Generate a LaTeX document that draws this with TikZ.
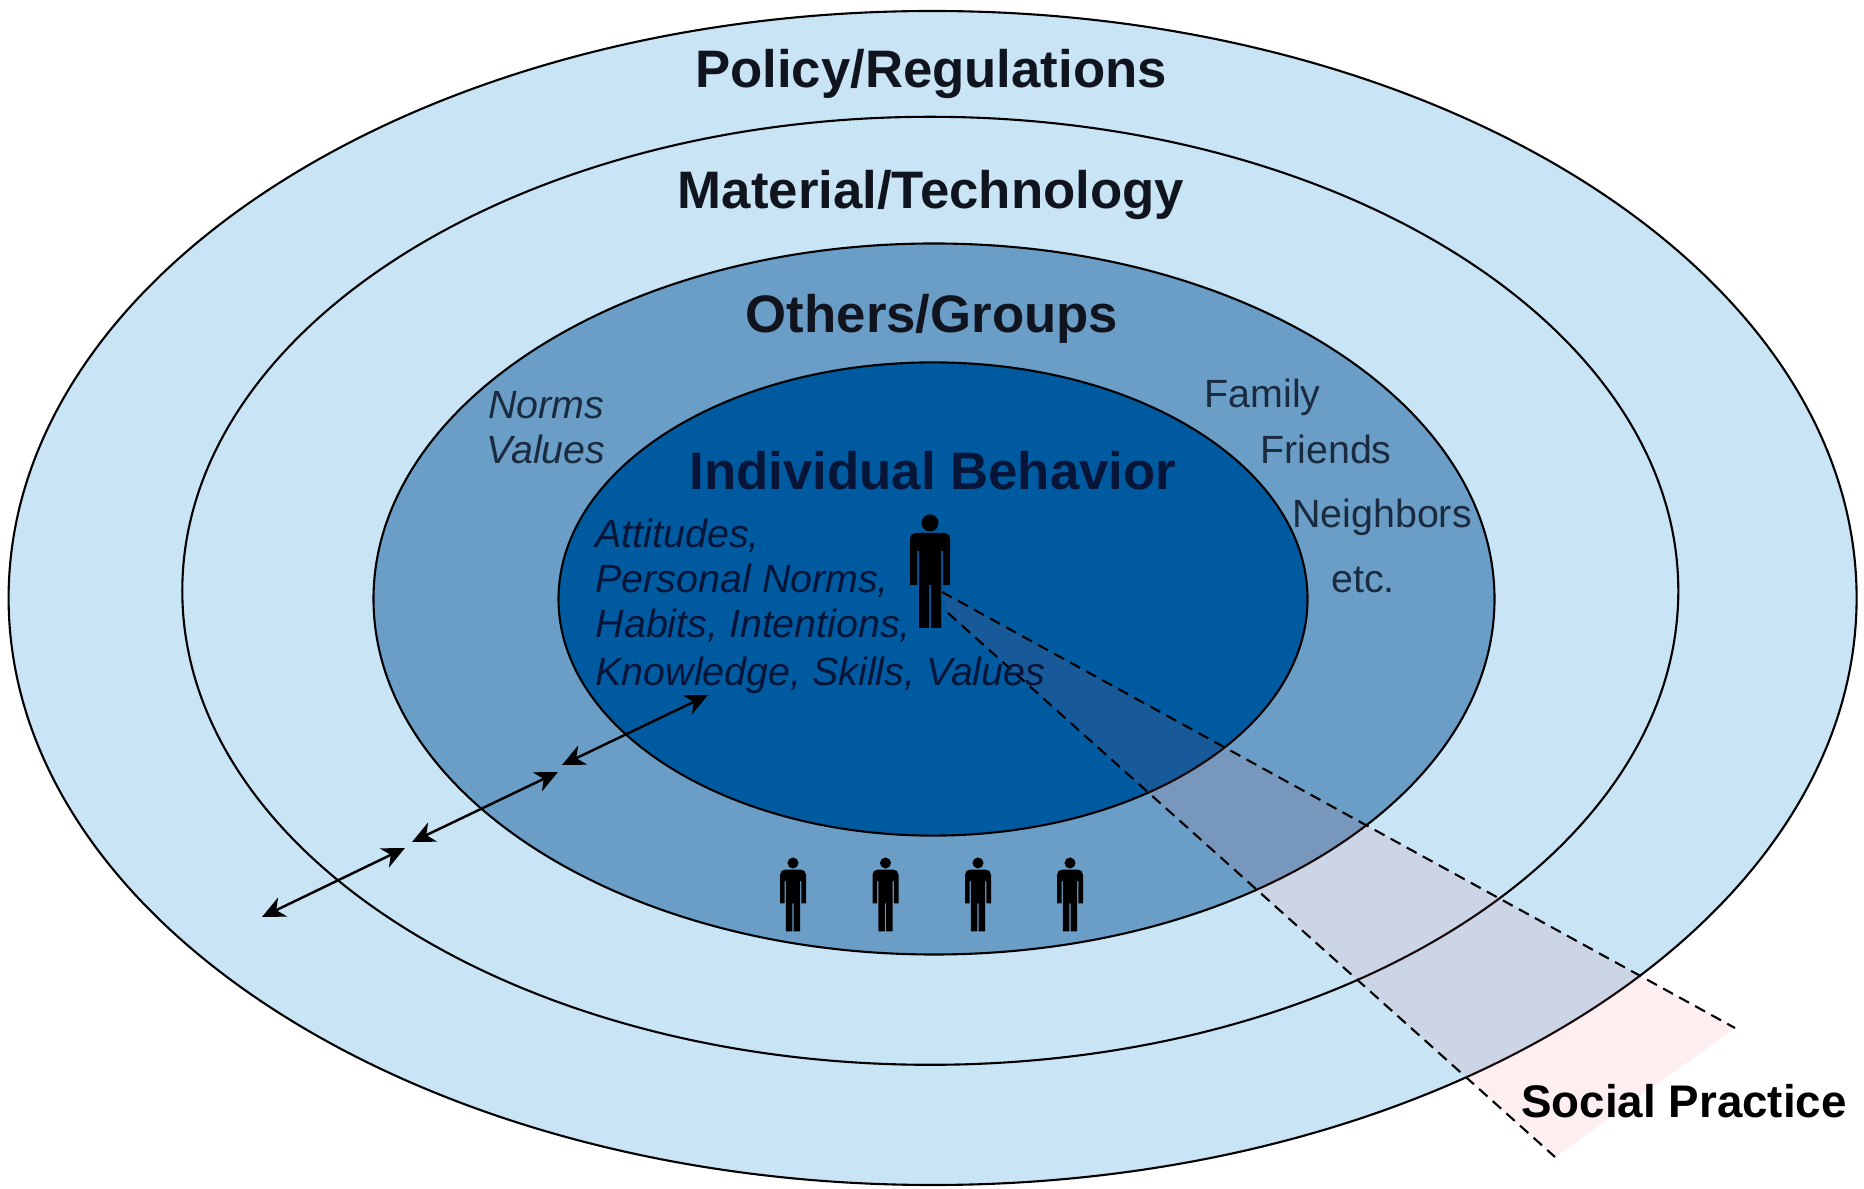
\documentclass[tikz,border=0pt]{standalone}
\usepackage{fontspec}
\setmainfont{Liberation Sans}
\usetikzlibrary{arrows.meta}
\definecolor{ringlight}{HTML}{C9E4F5}
\definecolor{ringmid}{HTML}{6B9EC7}
\definecolor{ringdark}{HTML}{005AA0}
\definecolor{beamtint}{RGB}{236,90,100}
\definecolor{inkdark}{HTML}{10141F}
\definecolor{inkmid}{HTML}{1A2A3F}
\definecolor{inknavy}{HTML}{071538}
\tikzset{
  ring/.style={draw=black,line width=.6pt},
  beamline/.style={line width=.6pt,dash pattern=on 3.2pt off 2pt},
  twoway/.style={<->,line width=.7pt},
  title/.style={font=\fontsize{15}{18}\selectfont\bfseries,text=inkdark,inner sep=0pt},
  note/.style={font=\fontsize{11.2}{13}\selectfont,text=inkmid,inner sep=0pt},
  noteit/.style={note,font=\fontsize{11.2}{13}\selectfont\itshape},
  person/.pic={
    \fill (0,0) circle (8.5);
    \fill (-20,62)[rounded corners=1.5pt]--(-20,10)--(20,10)[sharp corners]--(20,62)--(13,62)--(13,28)--(11,28)--(11,105)--(1,105)--(1,62)--(-1,62)--(-1,105)--(-11,105)--(-11,28)--(-13,28)--(-13,62)--cycle;
  }
}
\begin{document}
\begin{tikzpicture}[x=.01cm,y=-.01cm,line join=round,>={Stealth[length=6.5pt,width=6pt,inset=2pt]}]
\useasboundingbox (0,0) rectangle (1864,1189);

% rings
\filldraw[ring,fill=ringlight](932.6,598) ellipse [x radius=924,y radius=587];
\filldraw[ring,fill=ringlight](930.3,590.8) ellipse [x radius=748,y radius=474];
\filldraw[ring,fill=ringmid](934,599) ellipse [x radius=560.5,y radius=355.5];
\filldraw[ring,fill=ringdark](933,599) ellipse [x radius=374.5,y radius=236.6];

% beam
\coordinate (beamA) at (942,592);
\coordinate (beamB) at (948,613);
\coordinate (beamC) at (1735,1028);
\coordinate (beamD) at (1555,1157);
\fill[beamtint,fill opacity=.1](beamA)--(beamC)--(beamD)--(beamB)--cycle;
\draw[beamline](beamA)--(beamC);
\draw[beamline](beamB)--(beamD);

% people
\pic at (930,523) {person};
\foreach \px in {793,885.5,978,1070}
  \pic[scale=.65] at (\px,863) {person};

% arrows
\coordinate (arrowAa) at (262,917);
\coordinate (arrowAb) at (405,848);
\coordinate (arrowBa) at (412,842);
\coordinate (arrowBb) at (558,772);
\coordinate (arrowCa) at (562,765);
\coordinate (arrowCb) at (708,695);
\draw[twoway](arrowAa)--(arrowAb);
\draw[twoway](arrowBa)--(arrowBb);
\draw[twoway](arrowCa)--(arrowCb);

% labels
\node[title] (policy) at (931,74) {Policy/Regulations};
\node[title] (material) at (931,195) {Material/Technology};
\node[title] (others) at (932,319) {Others/Groups};
\node[title,text=inknavy] (individual) at (933,471) {Individual Behavior};

\node[noteit] (norms) at (546,405) {Norms};
\node[noteit] (values) at (546,449) {Values};

\node[noteit,text=inknavy,anchor=west] (attitudes) at (595,536) {Attitudes,};
\node[noteit,text=inknavy,anchor=west] (personal) at (595,581) {Personal Norms,};
\node[noteit,text=inknavy,anchor=west] (habits) at (595,626) {Habits, Intentions,};
\node[noteit,text=inknavy,anchor=west] (knowledge) at (595,675) {Knowledge, Skills, Values};

\node[note] (family) at (1262.5,397) {Family};
\node[note] (friends) at (1326,449) {Friends};
\node[note] (neighbors) at (1382,517) {Neighbors};
\node[note] (etc) at (1363,580) {etc.};

\node[title,font=\fontsize{13}{15}\selectfont\bfseries,text=black] (social) at (1684,1101) {Social Practice};
\end{tikzpicture}
\end{document}
